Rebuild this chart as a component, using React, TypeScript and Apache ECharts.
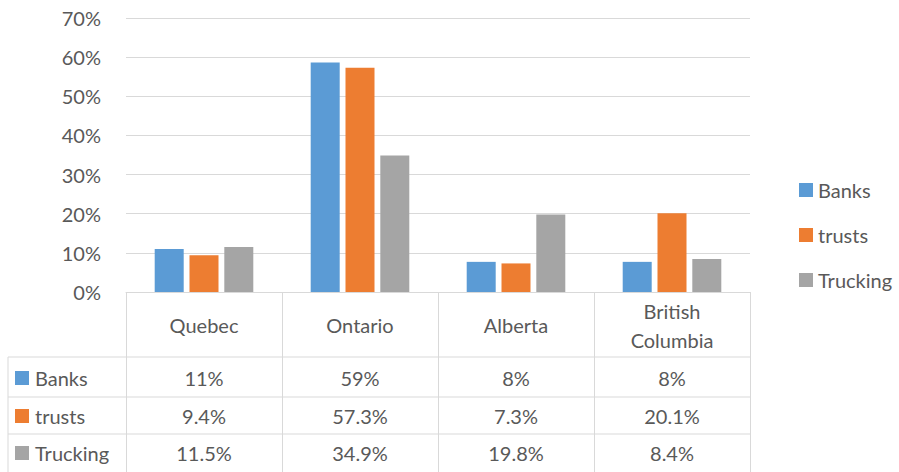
import React, { useEffect, useRef } from "react";
import * as echarts from "echarts";

const categories = ["Quebec", "Ontario", "Alberta", "British\nColumbia"];
const seriesNames = ["Banks", "trusts", "Trucking"];
const banks = [0.11, 0.586, 0.077, 0.077];
const trusts = [0.094, 0.573, 0.073, 0.201];
const trucking = [0.115, 0.349, 0.198, 0.084];
const tableDecimals = [0, 1, 1];
const colors = ["#5b9bd5", "#ed7d31", "#a5a5a5"];
const yTicks = [0, 0.1, 0.2, 0.3, 0.4, 0.5, 0.6, 0.7];

const FONT = "Lato, 'Open Sans', sans-serif";
const FS = 20;
const TXT = "#595959";
const LINE = "#d9d9d9";

export default function App() {
  const ref = useRef<HTMLDivElement>(null);
  useEffect(() => {
    if (!ref.current) return;
    const chart = echarts.init(ref.current, null, { renderer: "svg" });
    const data = [banks, trusts, trucking];
    const tableBottom = 180;
    chart.setOption({
      animation: false,
      textStyle: { fontFamily: FONT },
      grid: { left: 126, right: 149, top: 18, bottom: tableBottom, containLabel: false },
      legend: {
        orient: "vertical",
        left: 794,
        top: 175,
        itemWidth: 14,
        itemHeight: 14,
        itemGap: 25,
        icon: "rect",
        data: seriesNames,
        textStyle: { color: TXT, fontSize: FS, lineHeight: 20, fontFamily: FONT },
      },
      xAxis: {
        type: "category",
        data: categories,
        axisLine: { show: true, lineStyle: { color: LINE, width: 1 } },
        axisTick: { show: true, length: tableBottom, lineStyle: { color: LINE, width: 1 } },
        axisLabel: {
          color: TXT,
          fontSize: FS,
          fontFamily: FONT,
          margin: 33,
          verticalAlign: "middle",
          lineHeight: 29,
        },
      },
      yAxis: {
        type: "value",
        min: 0,
        max: yTicks[yTicks.length - 1],
        interval: 0.1,
        axisLine: { show: false },
        axisTick: { show: false },
        splitLine: { lineStyle: { color: LINE, width: 1 } },
        axisLabel: {
          color: TXT,
          fontSize: FS,
          fontFamily: FONT,
          margin: 25,
          formatter: (v: number) => Math.round(v * 100) + "%",
        },
      },
      series: seriesNames.map((n, i) => ({
        type: "bar",
        name: n,
        data: data[i],
        barWidth: 29,
        barGap: "20%",
        itemStyle: { color: colors[i] },
      })),
    });

    const y0 = chart.convertToPixel({ yAxisIndex: 0 }, 0) as number;
    const rowLines = [y0 + 65, y0 + 105, y0 + 142];
    const rowCenters = [y0 + 86, y0 + 124, y0 + 161];
    const leftX = 8;
    const rightX = (chart.convertToPixel({ xAxisIndex: 0 }, categories[categories.length - 1]) as number) + 78;
    const graphic: any[] = [];
    rowLines.forEach((y) => {
      graphic.push({
        type: "line",
        shape: { x1: leftX, y1: y, x2: rightX, y2: y },
        style: { stroke: LINE, lineWidth: 1 },
        silent: true,
      });
    });
    graphic.push({
      type: "line",
      shape: { x1: leftX, y1: rowLines[0], x2: leftX, y2: 472 },
      style: { stroke: LINE, lineWidth: 1 },
      silent: true,
    });
    seriesNames.forEach((n, i) => {
      const cy = rowCenters[i];
      graphic.push({
        type: "rect",
        shape: { x: 15, y: cy - 7, width: 14, height: 14 },
        style: { fill: colors[i] },
        silent: true,
      });
      graphic.push({
        type: "text",
        x: 35,
        y: cy,
        style: { text: n, fill: TXT, font: `${FS}px ${FONT}`, textVerticalAlign: "middle", textAlign: "left" },
        silent: true,
      });
      categories.forEach((c, j) => {
        const cx = chart.convertToPixel({ xAxisIndex: 0 }, c) as number;
        graphic.push({
          type: "text",
          x: cx,
          y: cy,
          style: {
            text: (data[i][j] * 100).toFixed(tableDecimals[i]) + "%",
            fill: TXT,
            font: `${FS}px ${FONT}`,
            textAlign: "center",
            textVerticalAlign: "middle",
          },
          silent: true,
        });
      });
    });
    chart.setOption({ graphic });
    return () => chart.dispose();
  }, []);
  return (
    <div
      ref={ref}
      style={{ position: "fixed", left: 0, top: 0, width: 899, height: 472, background: "#fff" }}
    />
  );
}
